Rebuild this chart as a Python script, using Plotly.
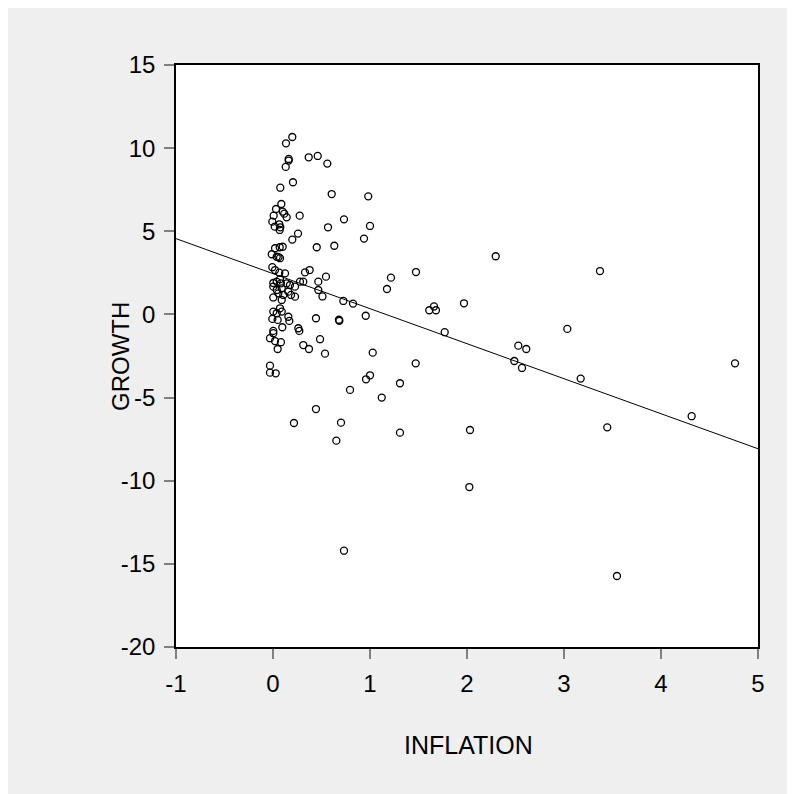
import numpy as np
import plotly.graph_objects as go

# Scatter data (INFLATION, GROWTH)
inflation = [
    0.199, 0.134, 0.162, 0.162, 0.131, 0.368, 0.461, 0.560, 0.206, 0.075,
    0.605, 0.982, 0.086, 0.031, 0.100, 0.116, 0.007, 0.141, 0.275, -0.007,
    0.065, 0.018, 0.075, 0.069, 0.732, 0.567, 1.000, 0.258, 0.199, 0.938,
    0.451, 0.632, 0.021, 0.069, 0.100, -0.013, 0.038, 0.072, 0.057,
    -0.007, 0.021, 0.065, 0.124, 0.330, 0.378, 0.546,
    0.072, 0.003, 0.038, 0.082, 0.141, 0.175, 0.227, 0.278, 0.312, 0.467,
    0.003, 0.038, 0.090, 0.055, 0.106, 0.227, 0.186, 0.158, 0.467, 0.510,
    0.003, 0.090, 0.072, 0.003, 0.038, 0.090, -0.007, 0.048, 0.158, 0.168,
    0.443, 0.096, 0.003, 0.003, 0.261, 0.271, -0.031, 0.021, 0.082, 0.485,
    0.312, 0.371, 0.048, 0.536, -0.031, -0.031, 0.028,
    0.680, 0.684, 0.725, 0.825, 0.956, 1.028, 1.000, 0.959, 0.794,
    2.296, 1.474, 1.216, 1.175, 1.611, 1.660, 1.680, 1.969, 1.770, 2.529,
    2.611, 2.488, 2.567, 1.471, 1.309, 1.121, 0.701, 0.653, 1.309, 2.031,
    2.024, 0.732, 3.371, 3.034, 3.172, 4.763, 4.316, 3.446, 3.546, 0.216,
    0.443,
]
growth = [
    10.67, 10.29, 9.35, 9.25, 8.87, 9.45, 9.53, 9.07, 7.95, 7.62,
    7.24, 7.10, 6.64, 6.34, 6.18, 6.06, 5.94, 5.84, 5.94, 5.58,
    5.42, 5.28, 5.24, 5.08, 5.72, 5.24, 5.32, 4.86, 4.50, 4.56,
    4.04, 4.13, 3.98, 4.04, 4.07, 3.62, 3.47, 3.38, 3.45,
    2.84, 2.67, 2.51, 2.47, 2.53, 2.67, 2.27,
    2.12, 1.89, 1.97, 1.87, 1.87, 1.77, 1.67, 1.97, 1.97, 1.97,
    1.67, 1.47, 1.57, 1.27, 1.17, 1.07, 1.17, 1.37, 1.47, 1.08,
    1.02, 0.87, 0.37, 0.17, 0.07, 0.17, -0.27, -0.33, -0.14, -0.39,
    -0.23, -0.77, -0.99, -1.13, -0.83, -0.99, -1.43, -1.60, -1.67, -1.49,
    -1.84, -2.08, -2.08, -2.36, -3.08, -3.50, -3.54,
    -0.32, -0.38, 0.81, 0.65, -0.08, -2.30, -3.66, -3.90, -4.54,
    3.50, 2.55, 2.21, 1.53, 0.25, 0.48, 0.25, 0.67, -1.07, -1.88,
    -2.08, -2.80, -3.22, -2.94, -4.14, -5.00, -6.51, -7.59, -7.11, -6.95,
    -10.38, -14.21, 2.61, -0.87, -3.86, -2.94, -6.12, -6.79, -15.73, -6.53,
    -5.69,
]

x_range = [-1, 5]
y_range = [-20, 15]
x_ticks = [-1, 0, 1, 2, 3, 4, 5]
y_ticks = [-20, -15, -10, -5, 0, 5, 10, 15]

# Least-squares fit line computed from the data
slope, intercept = np.polyfit(np.array(inflation), np.array(growth), 1)
fit_x = np.array(x_range, dtype=float)
fit_y = intercept + slope * fit_x

FONT = "Liberation Sans, Arial, sans-serif"

fig = go.Figure()
fig.add_trace(go.Scatter(
    x=inflation, y=growth, mode="markers",
    marker=dict(symbol="circle-open", size=7, color="black",
                line=dict(color="black", width=1.3)),
    showlegend=False, hoverinfo="skip",
))
fig.add_trace(go.Scatter(
    x=fit_x, y=fit_y, mode="lines",
    line=dict(color="black", width=1),
    showlegend=False, hoverinfo="skip",
))

axis_common = dict(
    showgrid=False, zeroline=False,
    showline=True, linecolor="black", linewidth=1.5, mirror=True,
    ticks="outside", ticklen=10, tickwidth=1.5, tickcolor="#808080",
    tickfont=dict(family=FONT, size=24, color="black"),
)

fig.update_xaxes(range=x_range, tickvals=x_ticks, ticktext=[str(v) for v in x_ticks],
                 ticklabelstandoff=4, **axis_common)
fig.update_yaxes(range=y_range, tickvals=y_ticks, ticktext=[str(v) for v in y_ticks],
                 ticklabelstandoff=4, **axis_common)

# Figure sits inside the page's 8px body margin
OFF = 8
W, H = 795, 794
L, T = 176 - OFF, 65 - OFF
pw = ph = 582
R = W - L - pw
B = H - T - ph

def px(x):
    return (x - OFF - L) / pw

def py(y):
    return (T + ph - (y - OFF)) / ph

fig.update_layout(
    width=W, height=H,
    margin=dict(l=L, r=R, t=T, b=B, pad=0),
    paper_bgcolor="#efefef", plot_bgcolor="white",
    font=dict(family=FONT, color="black"),
    annotations=[
        dict(text="INFLATION", xref="paper", yref="paper",
             x=px(468), y=py(745), xanchor="center", yanchor="middle",
             showarrow=False, font=dict(family=FONT, size=25, color="black")),
        dict(text="GROWTH", xref="paper", yref="paper",
             x=px(120), y=py(357), xanchor="center", yanchor="middle",
             textangle=-90, showarrow=False,
             font=dict(family=FONT, size=24, color="black")),
    ],
)

fig.write_html("out.html")
